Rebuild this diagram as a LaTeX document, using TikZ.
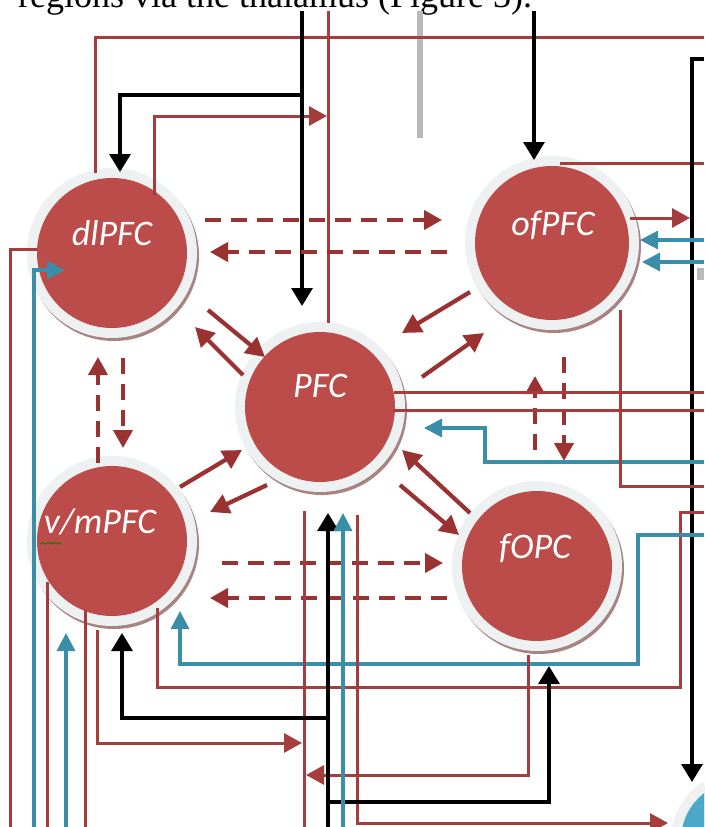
\documentclass[tikz,border=0pt]{standalone}
\usepackage{fontspec}
\setmainfont{Liberation Serif}
\newfontfamily\capfont{Liberation Serif}
\newfontfamily\labelfont{Carlito}
\usetikzlibrary{arrows.meta}
\definecolor{cfill}{HTML}{BC4C49}
\definecolor{cline}{HTML}{A53D3D}
\definecolor{carrow}{HTML}{9B3232}
\definecolor{cblue}{HTML}{3A8EA8}
\definecolor{cring}{HTML}{EEF1F1}
\definecolor{cshadow}{HTML}{A98282}
\definecolor{cbluefill}{HTML}{4BA8C6}
\definecolor{cgrey}{HTML}{B9B9B9}
\newcommand\brainregion[5]{% name, x, y, r, fill
  \fill[cshadow] (#2+2,#3+3) circle[radius=#4+10];
  \fill[cring] (#2,#3) circle[radius=#4+10];
  \node[circle, fill=#5, inner sep=0pt, minimum size={2*#4pt}] (#1) at (#2,#3) {};
}
\tikzset{
  redline/.style={draw=cline, line width=3pt},
  redarr/.style={redline, -{Triangle[length=18pt,width=19pt]}},
  blackline/.style={draw=black, line width=3.3pt},
  blackarr/.style={blackline, -{Triangle[length=18pt,width=21pt]}},
  blueline/.style={draw=cblue, line width=3.3pt},
  bluearr/.style={blueline, -{Triangle[length=18pt,width=18pt]}},
  dasharr/.style={draw=carrow, line width=4pt, dash pattern=on 16pt off 10pt, -{Triangle[length=18pt,width=19pt]}},
  thickarr/.style={draw=carrow, line width=4.2pt, -{Triangle[length=19pt,width=20pt]}},
  rlabel/.style={text=white, inner sep=0pt, font=\labelfont\itshape\fontsize{36}{36}\selectfont},
}
\begin{document}
\begin{tikzpicture}[x=1pt,y=-1pt]
\useasboundingbox (0,0) rectangle (704,827);
\fill[white] (0,0) rectangle (704,827);
\begin{scope}
\clip (0,0) rectangle (704,827);
\node[anchor=base west, inner sep=0pt, font=\capfont\fontsize{36}{36}\selectfont] (caption) at (18,7) {regions via the thalamus (Figure 3).};

% regions
\brainregion{dlPFC}{112}{253}{75}{cfill}
\brainregion{ofPFC}{552}{243}{77}{cfill}
\brainregion{PFC}{320}{407}{75}{cfill}
\brainregion{vmPFC}{112}{541}{75}{cfill}
\brainregion{fOPC}{537}{566}{75}{cfill}
\brainregion{thal}{740}{840}{59}{cbluefill}

% named end points
\coordinate (t302) at (302,11);   \coordinate (t328) at (328,11);
\coordinate (t420) at (420,11);   \coordinate (t534) at (534,11);
\coordinate (g420) at (420,138);
\coordinate (j95) at (302,95);
\coordinate (dlTopA) at (120,172);
\coordinate (pfcTopA) at (302,306);
\coordinate (pfcTopR) at (328,323);
\coordinate (dlTopL) at (95,173);
\coordinate (e37) at (704,37);
\coordinate (dlTopR) at (154,195);
\coordinate (r116) at (327,116);
\coordinate (ofTopA) at (534,160);
\coordinate (ofTopR) at (560,163);
\coordinate (e163) at (704,163);
\coordinate (e59) at (704,59);
\coordinate (thalTopA) at (692,782);
\coordinate (ofRt) at (630,218);
\coordinate (r218) at (690,218);
\coordinate (e240) at (704,240);  \coordinate (ofB1) at (640,240);
\coordinate (e262) at (704,262);  \coordinate (ofB2) at (642,262);
% dashed dl-of
\coordinate (d1a) at (205,220); \coordinate (d1b) at (442,220);
\coordinate (d2a) at (447,252); \coordinate (d2b) at (210,252);
% left side
\coordinate (dlL) at (37,249); \coordinate (b10) at (10,827);
\coordinate (b34) at (34,827); \coordinate (dlLA) at (65,270);
% thick arrows
\coordinate (a1s) at (208,310); \coordinate (a1e) at (265,357);
\coordinate (a2s) at (243,375); \coordinate (a2e) at (195,327);
\coordinate (a3s) at (180,487); \coordinate (a3e) at (242,450);
\coordinate (a4s) at (267,485); \coordinate (a4e) at (210,512);
\coordinate (a5s) at (470,292); \coordinate (a5e) at (402,333);
\coordinate (a6s) at (422,377); \coordinate (a6e) at (484,333);
\coordinate (a7s) at (470,513); \coordinate (a7e) at (402,450);
\coordinate (a8s) at (400,485); \coordinate (a8e) at (459,535);
% dashed verticals
\coordinate (v1s) at (98,463); \coordinate (v1e) at (98,357);
\coordinate (v2s) at (123,358); \coordinate (v2e) at (123,448);
\coordinate (v3s) at (535,450); \coordinate (v3e) at (535,376);
\coordinate (v4s) at (564,357); \coordinate (v4e) at (564,461);
% dashed vm-fOPC
\coordinate (h1s) at (222,563); \coordinate (h1e) at (443,563);
\coordinate (h2s) at (447,598); \coordinate (h2e) at (210,598);
% PFC right
\coordinate (pR1) at (394,392); \coordinate (e392) at (704,392);
\coordinate (pR2) at (394,410); \coordinate (e410) at (704,410);
\coordinate (e462) at (704,462); \coordinate (k485) at (485,428); \coordinate (pRA) at (424,428);
\coordinate (ofBR) at (620,310); \coordinate (e486) at (704,486);
\coordinate (e512) at (704,512); \coordinate (k680) at (680,687); \coordinate (vmB157) at (157,608);
\coordinate (e535) at (704,535); \coordinate (k638) at (638,664); \coordinate (vmBA180) at (180,611);
% bottom
\coordinate (b328) at (328,827); \coordinate (pfcBA) at (328,513);
\coordinate (j718) at (328,718); \coordinate (vmBA122) at (122,633);
\coordinate (j802) at (328,802); \coordinate (foBA) at (549,666);
\coordinate (b343) at (343,827); \coordinate (pfcBB) at (343,513);
\coordinate (p304) at (304,511); \coordinate (b304) at (304,827);
\coordinate (vm97) at (97,630); \coordinate (r743) at (302,743);
\coordinate (p357) at (357,515); \coordinate (thalLA) at (668,823);
\coordinate (fo528) at (528,655); \coordinate (r775) at (306,775);
\coordinate (vm47) at (47,582); \coordinate (b47) at (47,827);
\coordinate (vm85) at (85,610); \coordinate (b85) at (85,827);
\coordinate (b66) at (66,827); \coordinate (vmBA66) at (66,633);

% grey marks
\draw[cgrey, line width=6pt] (t420) -- (g420);
\fill[cgrey] (697,268) rectangle (704,280);

% top connectors
\draw[redline] (dlTopL) |- (e37);
\draw[redline] (t328) -- (pfcTopR);
\draw[redarr] (dlTopR) |- (r116);
\draw[blackarr] (t302) -- (pfcTopA);
\draw[blackarr] (j95) -| (dlTopA);
\draw[blackarr] (t534) -- (ofTopA);
\draw[redline] (ofTopR) -- (e163);
\draw[blackarr] (e59) -| (thalTopA);
\draw[redarr] (ofRt) -- (r218);
\draw[bluearr] (e240) -- (ofB1);
\draw[bluearr] (e262) -- (ofB2);

% dashed
\draw[dasharr] (d1a) -- (d1b);
\draw[dasharr] (d2a) -- (d2b);
\draw[dasharr] (v1s) -- (v1e);
\draw[dasharr] (v2s) -- (v2e);
\draw[dasharr] (v3s) -- (v3e);
\draw[dasharr] (v4s) -- (v4e);
\draw[dasharr] (h1s) -- (h1e);
\draw[dasharr] (h2s) -- (h2e);

% thick arrows
\foreach \n in {1,...,8} {\draw[thickarr] (a\n s) -- (a\n e);}

% left side
\draw[redline] (dlL) -| (b10);
\draw[bluearr] (b34) |- (dlLA);
\draw[redline] (vm47) -- (b47);
\draw[redline] (vm85) -- (b85);
\draw[bluearr] (b66) -- (vmBA66);

% right side
\draw[redline] (pR1) -- (e392);
\draw[redline] (pR2) -- (e410);
\draw[bluearr] (e462) -| (k485) -- (pRA);
\draw[redline] (ofBR) |- (e486);
\draw[redline] (e512) -| (k680) -| (vmB157);
\draw[bluearr] (e535) -| (k638) -| (vmBA180);

% bottom
\draw[redline] (p304) -- (b304);
\draw[redarr] (vm97) |- (r743);
\draw[redarr] (p357) |- (thalLA);
\draw[redarr] (fo528) |- (r775);
\draw[blackarr] (b328) -- (pfcBA);
\draw[blackarr] (j718) -| (vmBA122);
\draw[blackarr] (j802) -| (foBA);
\draw[bluearr] (b343) -- (pfcBB);

% labels
\node[rlabel] (dlPFC-t) at (112,233) {dlPFC};
\node[rlabel] (ofPFC-t) at (553,225) {ofPFC};
\node[rlabel] (PFC-t) at (320,386) {PFC};
\node[rlabel] (vmPFC-t) at (100,522) {v/mPFC};
\node[rlabel] (fOPC-t) at (535,548) {fOPC};
\draw[green!50!black, line width=0.9pt] (40,544) -- (43,542.5) -- (46,544) -- (49,542.5) -- (52,544) -- (55,542.5) -- (58,544) -- (61,542.5);
\end{scope}
\end{tikzpicture}
\end{document}
